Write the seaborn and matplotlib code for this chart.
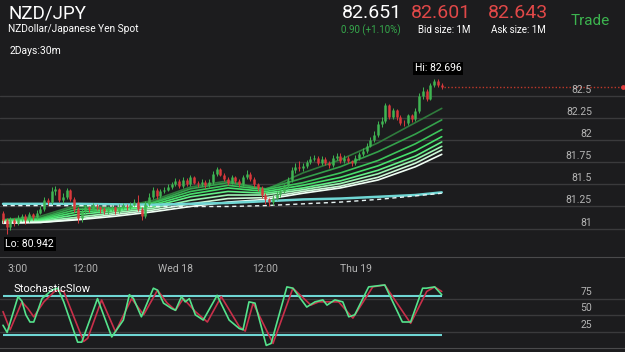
import numpy as np
import pandas as pd
import matplotlib
matplotlib.use("Agg")
import matplotlib.pyplot as plt
import matplotlib.transforms as mtransforms
import seaborn as sns

# --- datos (velas de 30m) ---
first_open = 81.18
closes = [81.10, 81.02, 81.10, 81.06, 81.12, 81.14, 81.10, 81.16, 81.13, 81.18,
          81.22, 81.32, 81.30, 81.42, 81.45, 81.32, 81.36, 81.44, 81.34, 81.22,
          81.12, 81.20, 81.24, 81.22, 81.26, 81.24, 81.22, 81.20, 81.22, 81.24,
          81.20, 81.24, 81.26, 81.24, 81.27, 81.30, 81.22, 81.14, 81.28, 81.36,
          81.44, 81.37, 81.42, 81.44, 81.47, 81.50, 81.54, 81.48, 81.55, 81.50,
          81.58, 81.52, 81.50, 81.53, 81.49, 81.53, 81.62, 81.67, 81.61, 81.56,
          81.52, 81.58, 81.54, 81.50, 81.58, 81.62, 81.56, 81.50, 81.46, 81.38,
          81.33, 81.30, 81.35, 81.39, 81.42, 81.48, 81.55, 81.66, 81.70, 81.68,
          81.71, 81.75, 81.79, 81.80, 81.74, 81.79, 81.74, 81.72, 81.80, 81.82,
          81.76, 81.80, 81.76, 81.74, 81.80, 81.84, 81.88, 81.94, 82.00, 82.06,
          82.18, 82.22, 82.40, 82.26, 82.34, 82.26, 82.20, 82.19, 82.28, 82.24,
          82.33, 82.50, 82.56, 82.47, 82.62, 82.67, 82.62, 82.60]
highs = [81.20, 81.12, 81.13, 81.12, 81.15, 81.17, 81.16, 81.19, 81.18, 81.21,
         81.25, 81.36, 81.35, 81.47, 81.48, 81.46, 81.40, 81.46, 81.45, 81.36,
         81.24, 81.23, 81.27, 81.26, 81.29, 81.28, 81.26, 81.24, 81.25, 81.27,
         81.26, 81.28, 81.29, 81.28, 81.30, 81.34, 81.38, 81.24, 81.31, 81.40,
         81.47, 81.46, 81.45, 81.47, 81.50, 81.53, 81.57, 81.56, 81.58, 81.57,
         81.61, 81.60, 81.54, 81.56, 81.55, 81.56, 81.65, 81.70, 81.69, 81.63,
         81.58, 81.61, 81.60, 81.56, 81.61, 81.66, 81.64, 81.58, 81.52, 81.48,
         81.40, 81.35, 81.38, 81.42, 81.45, 81.51, 81.58, 81.70, 81.74, 81.76,
         81.74, 81.78, 81.82, 81.83, 81.82, 81.82, 81.81, 81.76, 81.83, 81.85,
         81.86, 81.83, 81.82, 81.78, 81.83, 81.87, 81.91, 81.97, 82.04, 82.10,
         82.22, 82.26, 82.42, 82.41, 82.36, 82.35, 82.28, 82.23, 82.30, 82.30,
         82.36, 82.53, 82.60, 82.58, 82.65, 82.696, 82.69, 82.65]
lows = [81.06, 80.942, 80.98, 81.03, 81.04, 81.09, 81.05, 81.08, 81.10, 81.11,
        81.16, 81.20, 81.27, 81.28, 81.38, 81.30, 81.29, 81.34, 81.31, 81.19,
        81.06, 81.08, 81.17, 81.19, 81.20, 81.21, 81.18, 81.16, 81.17, 81.20,
        81.17, 81.18, 81.22, 81.21, 81.22, 81.25, 81.20, 81.10, 81.12, 81.26,
        81.34, 81.34, 81.35, 81.40, 81.42, 81.45, 81.48, 81.46, 81.46, 81.48,
        81.48, 81.50, 81.47, 81.48, 81.46, 81.47, 81.51, 81.60, 81.59, 81.54,
        81.49, 81.50, 81.52, 81.47, 81.48, 81.56, 81.54, 81.47, 81.43, 81.35,
        81.28, 81.25, 81.27, 81.32, 81.36, 81.40, 81.46, 81.53, 81.63, 81.65,
        81.65, 81.69, 81.73, 81.76, 81.72, 81.72, 81.72, 81.69, 81.70, 81.78,
        81.74, 81.74, 81.74, 81.71, 81.72, 81.78, 81.82, 81.86, 81.92, 81.98,
        82.04, 82.15, 82.20, 82.24, 82.24, 82.23, 82.17, 82.16, 82.17, 82.21,
        82.22, 82.31, 82.47, 82.44, 82.45, 82.60, 82.60, 82.58]

tick_idx = [4, 22, 46, 70, 94]
tick_labels = ["3:00", "12:00", "Wed 18", "12:00", "Thu 19"]
price_levels = [81, 81.25, 81.5, 81.75, 82, 82.25, 82.5]
price_labels = ["81", "81.25", "81.5", "81.75", "82", "82.25", "82.5"]

# cinta de medias moviles (de la mas rapida a la mas lenta)
ma_idx = [0, 10, 20, 30, 40, 50, 60, 70, 80, 90, 100, 110, 117]
ma_ribbon = [
    [81.10, 81.14, 81.27, 81.23, 81.32, 81.47, 81.54, 81.44, 81.63, 81.78, 81.97, 82.20, 82.36],
    [81.10, 81.12, 81.25, 81.23, 81.30, 81.45, 81.52, 81.45, 81.57, 81.70, 81.87, 82.07, 82.23],
    [81.09, 81.11, 81.22, 81.22, 81.29, 81.42, 81.49, 81.44, 81.52, 81.63, 81.77, 81.96, 82.12],
    [81.09, 81.10, 81.19, 81.21, 81.27, 81.39, 81.46, 81.42, 81.49, 81.58, 81.71, 81.88, 82.04],
    [81.08, 81.09, 81.16, 81.20, 81.25, 81.36, 81.42, 81.40, 81.46, 81.54, 81.66, 81.82, 81.98],
    [81.08, 81.08, 81.13, 81.18, 81.23, 81.32, 81.38, 81.38, 81.44, 81.51, 81.62, 81.78, 81.93],
    [81.07, 81.07, 81.11, 81.16, 81.21, 81.28, 81.34, 81.35, 81.42, 81.48, 81.58, 81.74, 81.89],
    [81.06, 81.07, 81.10, 81.14, 81.19, 81.25, 81.30, 81.33, 81.40, 81.46, 81.55, 81.70, 81.84],
]
long_idx = [0, 20, 40, 60, 70, 80, 90, 100, 110, 117]
ma_long_solid = [81.28, 81.28, 81.27, 81.29, 81.31, 81.33, 81.34, 81.36, 81.38, 81.41]
ma_long_dashed = [81.26, 81.26, 81.25, 81.25, 81.26, 81.28, 81.30, 81.33, 81.37, 81.40]

bid_level = 82.601
hi_val, hi_idx = 82.696, 115
lo_val, lo_idx = 80.942, 1

# estocastico lento (%K verde, %D rojo)
k_idx = [0, 1.1, 4, 5.05, 6.1, 7.2, 8.2, 10.4, 13, 14.6, 16.2, 19.9, 21, 25.2, 29, 32.1,
         33.7, 34.8, 36.9, 40.1, 41.2, 42.8, 44.9, 46, 47.6, 48.6, 49.7, 51.3, 53.4, 57.1,
         60.3, 63, 64, 65.6, 67.2, 70.2, 71.5, 75.7, 77.3, 81, 83.2, 85.3, 86.4, 88.5,
         90.6, 92.2, 93.8, 97.5, 101.8, 106.5, 108.7, 111.9, 112.9, 115.1, 117]
k_val = [35, 24, 79, 72, 51, 40, 40, 76, 89, 92, 71, 9, 9, 76, 17, 43,
         82, 76, 48, 92, 89, 69, 61, 58, 79, 71, 76, 51, 43, 81,
         43, 30, 28, 71, 69, 4, 7, 94, 92, 63, 71, 74, 66, 74,
         71, 48, 51, 94, 97, 40, 40, 92, 92, 94, 82]
d_idx = [0, 1.9, 5.05, 6.6, 8.2, 10.9, 14.1, 16.2, 21.5, 22.6, 26.3, 30, 34.3, 37.5,
         41.2, 43.8, 46, 48.1, 51.3, 54.5, 58.2, 63, 64.6, 66.7, 72, 77.3, 82.1, 84.2,
         89.5, 93.3, 98.6, 101.8, 108.7, 113, 115.1, 117]
d_val = [56, 28, 71, 61, 48, 71, 89, 87, 10, 15, 74, 25, 76, 51,
         89, 69, 58, 76, 56, 40, 79, 33, 26, 69, 7, 92, 66, 71,
         71, 46, 94, 97, 38, 87, 94, 87]
stoch_levels = [25, 50, 75]
stoch_bands = [20, 80]

# --- estilo ---
sns.set_style("dark")
BG = "#1c1c1e"
GRID = "#3a3a3c"
TXT = "#b4b4b4"
GREEN = "#3cb44f"
RED = "#e04848"
CYAN = "#6fd6d4"
plt.rcParams["font.family"] = ["Roboto", "DejaVu Sans"]

W, H = 625, 352
fig = plt.figure(figsize=(W / 100, H / 100), dpi=100, facecolor=BG)


def px(x, y):
    return x / W, 1 - y / H


n = len(closes)
assert len(highs) == n and len(lows) == n
xmin, xmax = -0.8, (W - 3) / 3.75

df = pd.DataFrame({"i": np.arange(n), "open": [first_open] + closes[:-1],
                   "close": closes, "high": highs, "low": lows})
df["up"] = df["close"] >= df["open"]
df["top"] = df[["open", "close"]].max(axis=1)
df["bot"] = df[["open", "close"]].min(axis=1)

# ---------- panel estocastico (debajo, sin fondo propio) ----------
ax2 = fig.add_axes([0, 4 / H, 1, 86 / H])
ax2.patch.set_alpha(0)
ax2.set_xlim(xmin, xmax)
ax2.set_ylim(0, 132.3)
for lv in stoch_levels:
    ax2.axhline(lv, color=GRID, lw=1, zorder=0)
ax2.hlines(stoch_bands, 0, n - 1, color=CYAN, lw=1.5, zorder=1)
sns.lineplot(x=d_idx, y=d_val, color="#c9304a", lw=1.2, ax=ax2, zorder=2)
sns.lineplot(x=k_idx, y=k_val, color="#55e38c", lw=1.2, ax=ax2, zorder=3)

lab_tr2 = mtransforms.offset_copy(ax2.get_yaxis_transform(), fig=fig, x=0, y=7, units="dots")
for lv in stoch_levels:
    ax2.text(592 / W, lv, str(lv), transform=lab_tr2, ha="right", va="center",
             color=TXT, fontsize=7.5)

ax2.set_xticks(tick_idx, [""] * len(tick_idx))
ax2.set_yticks([])
ax2.tick_params(axis="x", colors="#8a8a8a", length=2, width=1.5, direction="inout")
ax2.set_xlabel("")
ax2.set_ylabel("")
for s in ["top", "left", "right"]:
    ax2.spines[s].set_visible(False)
ax2.spines["bottom"].set_color("#4a4a4c")
fig.text(*px(13, 289), "StochasticSlow", color="white", fontsize=8, va="center")

# ---------- panel principal ----------
ax = fig.add_axes([0, (H - 257) / H, 1, 197 / H])
ax.set_zorder(3)
ax.set_facecolor(BG)
ax.set_xlim(xmin, xmax)
ax.set_ylim(82.5 - 161 / 88.4, 82.5 + 36 / 88.4)
for lv in price_levels:
    ax.axhline(lv, color=GRID, lw=1, zorder=0)

ribbon_colors = ["#2f7a3c", "#34a04b", "#3cc45a", "#46e06b", "#62f086",
                 "#9cf5b2", "#cdf9d8", "#f0fff5"]
ma_df = pd.DataFrame({
    "i": ma_idx * len(ma_ribbon),
    "value": [v for line in ma_ribbon for v in line],
    "line": [k for k in range(len(ma_ribbon)) for _ in ma_idx],
})
sns.lineplot(data=ma_df, x="i", y="value", hue="line", palette=ribbon_colors,
             legend=False, lw=1.2, ax=ax, zorder=2)
sns.lineplot(x=long_idx, y=ma_long_solid, color=CYAN, lw=1.8, ax=ax, zorder=2)
sns.lineplot(x=long_idx, y=ma_long_dashed, color="#e8f4f4", lw=1.0,
             linestyle=(0, (3, 2.5)), ax=ax, zorder=2)

for up, col in [(True, "#3fb552"), (False, "#d8393c")]:
    sub = df[df["up"] == up]
    ax.vlines(sub["i"], sub["low"], sub["high"], color=col, lw=0.7, zorder=3)
    ax.vlines(sub["i"], sub["bot"], sub["top"], color=col, lw=1.8, zorder=3)

ax.hlines(bid_level, n - 0.5, xmax - 0.6, color="#c0392b", lw=1,
          linestyles=(0, (1, 1.5)), zorder=3)
ax.scatter([xmax - 0.5], [bid_level], s=6, color="#e03b3b", zorder=4, clip_on=False)

box = dict(facecolor="black", edgecolor="none", pad=1.2)
ax.annotate(f"Hi: {hi_val}", (hi_idx, hi_val), xytext=(3, 7.5),
            textcoords="offset points", ha="center", va="center",
            color="white", fontsize=7.5, bbox=box, zorder=5)
ax.annotate(f"Lo: {lo_val}", (lo_idx, lo_val), xytext=(-1, -7.5),
            textcoords="offset points", ha="left", va="center",
            color="white", fontsize=7.5, bbox=box, zorder=5)

lab_tr = mtransforms.offset_copy(ax.get_yaxis_transform(), fig=fig, x=0, y=6, units="dots")
for lv, lab in zip(price_levels, price_labels):
    ax.text(592 / W, lv, lab, transform=lab_tr, ha="right", va="center",
            color=TXT, fontsize=7.5)

ax.set_xticks(tick_idx, tick_labels)
ax.set_yticks([])
ax.tick_params(axis="x", colors="#8a8a8a", labelcolor=TXT, labelsize=7.5,
               length=2, width=1.5, direction="inout", pad=4)
ax.set_xlabel("")
ax.set_ylabel("")
for s in ["top", "left", "right"]:
    ax.spines[s].set_visible(False)
ax.spines["bottom"].set_color("#4a4a4c")

# ---------- cabecera ----------
fig.text(*px(8, 13), "NZD/JPY", color="white", fontsize=13.5, va="center")
fig.text(*px(8, 29), "NZDollar/Japanese Yen Spot", color="white", fontsize=7.3, va="center")
fig.text(*px(10, 51), "2Days:30m", color="white", fontsize=7.5, va="center")
fig.text(*px(402, 13), "82.651", color="white", fontsize=14, ha="right", va="center")
fig.text(*px(401, 30), "0.90 (+1.10%)", color="#36a94c", fontsize=7, ha="right", va="center")
fig.text(*px(441, 13), "82.601", color=RED, fontsize=14, ha="center", va="center")
fig.text(*px(444, 30), "Bid size: 1M", color="white", fontsize=7, ha="center", va="center")
fig.text(*px(518, 13), "82.643", color=RED, fontsize=14, ha="center", va="center")
fig.text(*px(518, 30), "Ask size: 1M", color="white", fontsize=7, ha="center", va="center")
fig.text(*px(590, 21), "Trade", color=GREEN, fontsize=11, ha="center", va="center")

fig.savefig("out.png", dpi=100, facecolor=BG)
